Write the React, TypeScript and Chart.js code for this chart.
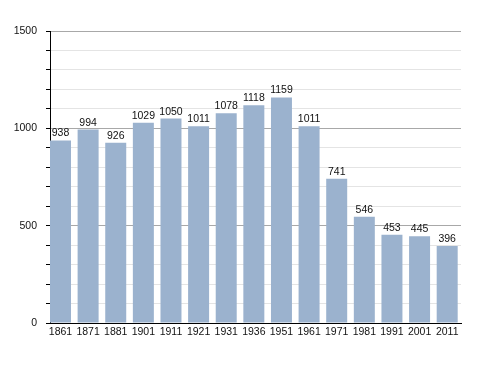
import React, { useEffect, useRef } from "react";
import { Chart, registerables } from "chart.js";

Chart.register(...registerables);

const years = ["1861", "1871", "1881", "1901", "1911", "1921", "1931", "1936", "1951", "1961", "1971", "1981", "1991", "2001", "2011"];
const population = [938, 994, 926, 1029, 1050, 1011, 1078, 1118, 1159, 1011, 741, 546, 453, 445, 396];
const yLabels = [0, 500, 1000, 1500];

const FONT = "'Liberation Sans', Arial, sans-serif";

const valueLabels = {
  id: "valueLabels",
  afterDatasetsDraw(chart: any) {
    const ctx = chart.ctx;
    const meta = chart.getDatasetMeta(0);
    ctx.save();
    ctx.fillStyle = "#111";
    ctx.font = `10.5px ${FONT}`;
    ctx.textAlign = "center";
    ctx.textBaseline = "alphabetic";
    meta.data.forEach((el: any, i: number) => {
      ctx.fillText(String(population[i]), el.x, el.y - 4);
    });
    ctx.restore();
  },
};

export default function App() {
  const ref = useRef<HTMLCanvasElement>(null);
  useEffect(() => {
    if (!ref.current) return;
    const chart = new Chart(ref.current, {
      type: "bar",
      data: {
        datasets: [
          {
            data: population.map((v, i) => ({ x: i, y: v })),
            backgroundColor: "#9bb2ce",
            borderWidth: 0,
            barPercentage: 0.76,
            categoryPercentage: 1,
          },
        ],
      },
      options: {
        animation: false,
        responsive: false,
        maintainAspectRatio: false,
        layout: { padding: { top: 31, right: 27, left: 0, bottom: 0 } },
        plugins: { legend: { display: false }, tooltip: { enabled: false } },
        scales: {
          x: {
            type: "linear",
            min: -0.38,
            max: 14.5,
            offset: false,
            afterBuildTicks: (s: any) => {
              s.ticks = years.map((_, i) => ({ value: i }));
            },
            afterFit: (s: any) => {
              s.height = 50;
            },
            grid: { display: false, drawTicks: false },
            border: { display: true, color: "#000", width: 1 },
            ticks: {
              autoSkip: false,
              maxRotation: 0,
              padding: 3,
              color: "#111",
              font: { family: FONT, size: 10.5 },
              callback: (v: any) => years[Math.round(v)] ?? "",
            },
          },
          y: {
            min: 0,
            max: 1500,
            afterBuildTicks: (s: any) => {
              const t = [];
              for (let v = 0; v <= 1500; v += 100) t.push({ value: v });
              s.ticks = t;
            },
            afterFit: (s: any) => {
              s.width = 50;
            },
            grid: {
              color: (c: any) => (c.tick && c.tick.value % 500 === 0 ? "#a8a8a8" : "#e4e4e4"),
              tickColor: "#000",
              tickLength: 4,
              lineWidth: 1,
            },
            border: { display: true, color: "#000", width: 1 },
            ticks: {
              padding: 9,
              color: "#111",
              font: { family: FONT, size: 10.5 },
              callback: (v: any) => (yLabels.includes(v) ? String(v) : ""),
            },
          },
        },
      },
      plugins: [valueLabels],
    });
    return () => chart.destroy();
  }, []);
  return (
    <div style={{ position: "fixed", left: 0, top: 0, width: 488, height: 373, background: "#fff" }}>
      <canvas ref={ref} width={488} height={373} style={{ width: 488, height: 373 }} />
    </div>
  );
}
